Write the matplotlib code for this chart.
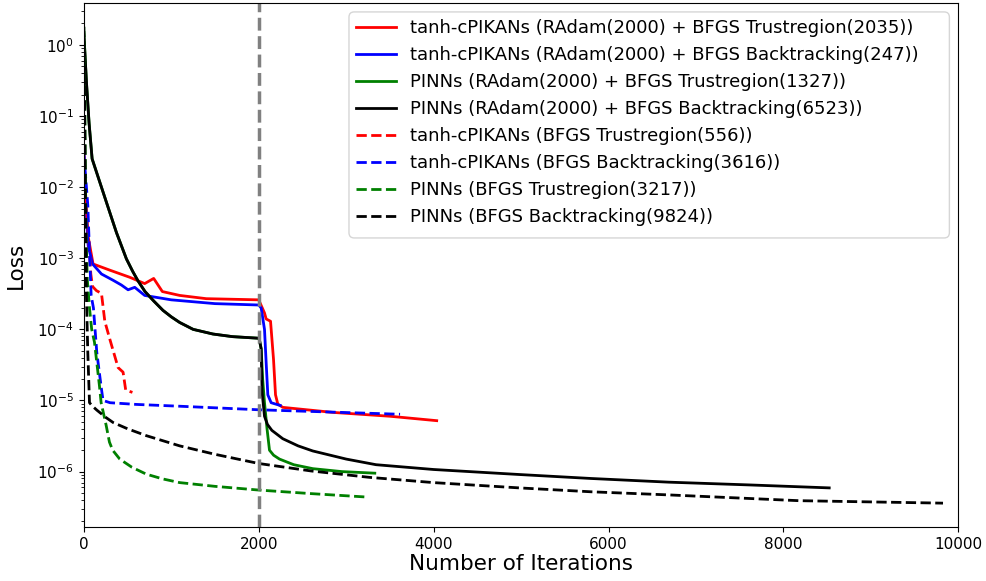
import matplotlib
matplotlib.use("Agg")
import matplotlib.pyplot as plt
from matplotlib.patches import FancyBboxPatch

# tanh-cPIKANs, RAdam(2000) + BFGS Trustregion(2035)
kan_radam_tr_it = [0, 20, 50, 106, 297, 525, 696, 799, 898, 1096, 1400, 2000,
                   2066, 2085, 2135, 2169, 2192, 2218, 2275, 2846, 3500, 4035]
kan_radam_tr_loss = [3e-2, 8e-3, 2e-3, 8.3e-4, 6.8e-4, 5.4e-4, 4.4e-4, 5.2e-4, 3.4e-4, 3.0e-4, 2.7e-4, 2.6e-4,
                     1.7e-4, 1.4e-4, 1.3e-4, 3.8e-5, 1.2e-5, 8.9e-6, 8.0e-6, 6.8e-6, 6.0e-6, 5.2e-6]

# tanh-cPIKANs, RAdam(2000) + BFGS Backtracking(247)
kan_radam_bt_it = [0, 20, 50, 100, 202, 335, 430, 506, 582, 696, 1000, 1500, 2000,
                   2028, 2066, 2085, 2104, 2142, 2247]
kan_radam_bt_loss = [3e-2, 6e-3, 1.5e-3, 8.3e-4, 6.0e-4, 4.9e-4, 4.2e-4, 3.6e-4, 3.9e-4, 3.0e-4, 2.6e-4, 2.3e-4, 2.2e-4,
                     2.0e-4, 1.0e-4, 3.4e-5, 1.2e-5, 9.3e-6, 8.5e-6]

# PINNs RAdam phase (shared by both PINN hybrid runs)
pinn_radam_it = [0, 30, 60, 95, 259, 373, 487, 560, 620, 700, 800, 905, 1000, 1096, 1250, 1476, 1700, 2000]
pinn_radam_loss = [1.5, 0.3, 0.08, 2.5e-2, 6.1e-3, 2.3e-3, 9.8e-4, 6.5e-4, 4.8e-4, 3.4e-4, 2.5e-4, 1.85e-4,
                   1.5e-4, 1.25e-4, 1.0e-4, 8.6e-5, 7.9e-5, 7.5e-5]

# PINNs, BFGS Trustregion(1327) after RAdam
pinn_tr_it = [2009, 2028, 2045, 2066, 2095, 2123, 2170, 2237, 2400, 2618, 2950, 3327]
pinn_tr_loss = [7e-5, 5.3e-5, 2e-5, 9.3e-6, 4e-6, 2e-6, 1.7e-6, 1.5e-6, 1.25e-6, 1.1e-6, 1.0e-6, 9.5e-7]

# PINNs, BFGS Backtracking(6523) after RAdam
pinn_bt_it = [2009, 2028, 2039, 2066, 2100, 2150, 2275, 2450, 2618, 3000, 3341, 4000, 4977, 5800, 6690, 7600, 8523]
pinn_bt_loss = [7e-5, 5.3e-5, 1.3e-5, 6e-6, 4.6e-6, 3.8e-6, 2.9e-6, 2.3e-6, 1.95e-6, 1.5e-6, 1.25e-6, 1.07e-6,
                9.1e-7, 8e-7, 7.1e-7, 6.5e-7, 5.9e-7]

# tanh-cPIKANs, BFGS Trustregion(556)
kan_tr_it = [0, 30, 60, 80, 100, 145, 202, 240, 297, 392, 449, 479, 556]
kan_tr_loss = [3e-2, 5e-3, 1.5e-3, 6e-4, 4e-4, 3.5e-4, 3.2e-4, 1.3e-4, 7.3e-5, 2.9e-5, 2.5e-5, 1.4e-5, 1.3e-5]

# tanh-cPIKANs, BFGS Backtracking(3616)
kan_bt_it = [0, 46, 65, 84, 110, 148, 200, 220, 300, 600, 1096, 2000, 3616]
kan_bt_loss = [3e-2, 5.5e-3, 1.2e-3, 3e-4, 2e-4, 4.8e-5, 1.5e-5, 1.0e-5, 9.3e-6, 8.8e-6, 8.3e-6, 7.4e-6, 6.4e-6]

# PINNs, BFGS Trustregion(3217)
pinn_only_tr_it = [0, 10, 20, 26, 40, 65, 90, 122, 179, 198, 255, 293, 330, 411, 550, 715, 900, 1096, 1500,
                   2000, 2600, 3217]
pinn_only_tr_loss = [1.8, 0.2, 1e-2, 2e-3, 5e-4, 2e-4, 1.0e-4, 6.6e-5, 1.6e-5, 9.3e-6, 4.5e-6, 2.6e-6,
                     2.0e-6, 1.5e-6, 1.15e-6, 9.2e-7, 7.9e-7, 7e-7, 6.2e-7, 5.5e-7, 4.9e-7, 4.4e-7]

# PINNs, BFGS Backtracking(9824)
pinn_only_bt_it = [0, 10, 20, 30, 45, 65, 100, 150, 250, 335, 500, 715, 1096, 1500, 2000, 2600, 3265, 4000,
                   4977, 5800, 6690, 8174, 9824]
pinn_only_bt_loss = [1.8, 0.1, 5e-3, 3e-4, 5e-5, 9.3e-6, 8.3e-6, 7.3e-6, 5.8e-6, 4.9e-6, 4.0e-6, 3.2e-6,
                     2.3e-6, 1.75e-6, 1.3e-6, 1.02e-6, 8.3e-7, 7.0e-7, 5.9e-7, 5.2e-7, 4.7e-7, 3.9e-7, 3.6e-7]

fig, ax = plt.subplots(figsize=(9.86, 5.81), dpi=100)
fig.subplots_adjust(left=0.085, right=0.972, top=0.995, bottom=0.093)

lw = 2
ax.plot(kan_radam_tr_it, kan_radam_tr_loss, color="red", lw=lw,
        label="tanh-cPIKANs (RAdam(2000) + BFGS Trustregion(2035))")
ax.plot(kan_radam_bt_it, kan_radam_bt_loss, color="blue", lw=lw,
        label="tanh-cPIKANs (RAdam(2000) + BFGS Backtracking(247))")
ax.plot(pinn_radam_it + pinn_tr_it, pinn_radam_loss + pinn_tr_loss, color="green", lw=lw,
        label="PINNs (RAdam(2000) + BFGS Trustregion(1327))")
ax.plot(pinn_radam_it + pinn_bt_it, pinn_radam_loss + pinn_bt_loss, color="black", lw=lw,
        label="PINNs (RAdam(2000) + BFGS Backtracking(6523))")
ax.plot(kan_tr_it, kan_tr_loss, color="red", ls="--", lw=lw,
        label="tanh-cPIKANs (BFGS Trustregion(556))")
ax.plot(kan_bt_it, kan_bt_loss, color="blue", ls="--", lw=lw,
        label="tanh-cPIKANs (BFGS Backtracking(3616))")
ax.plot(pinn_only_tr_it, pinn_only_tr_loss, color="green", ls="--", lw=lw,
        label="PINNs (BFGS Trustregion(3217))")
ax.plot(pinn_only_bt_it, pinn_only_bt_loss, color="black", ls="--", lw=lw,
        label="PINNs (BFGS Backtracking(9824))")

# switch point between RAdam and BFGS
ax.axvline(2000, color="gray", ls="--", lw=2.5)

ax.set_yscale("log")
ax.set_xlim(0, 10000)
ax.set_xlabel("Number of Iterations", fontsize=15.5, labelpad=2)
ax.set_ylabel("Loss", fontsize=15.5, labelpad=8)
ax.tick_params(labelsize=11)

# legend frame drawn separately so it can be a bit roomier than the text
frame = FancyBboxPatch((0.3032, 0.5515), 0.6865, 0.4313, transform=ax.transAxes,
                       boxstyle="round,pad=0,rounding_size=0.006", mutation_aspect=874 / 524,
                       facecolor="white", edgecolor="0.8", lw=1, alpha=0.8, zorder=4.9)
ax.add_patch(frame)
ax.legend(loc="upper left", bbox_to_anchor=(0.3032, 0.9828), borderaxespad=0,
          fontsize=13, handlelength=2.2, frameon=False)

fig.savefig("out.png", dpi=100)
